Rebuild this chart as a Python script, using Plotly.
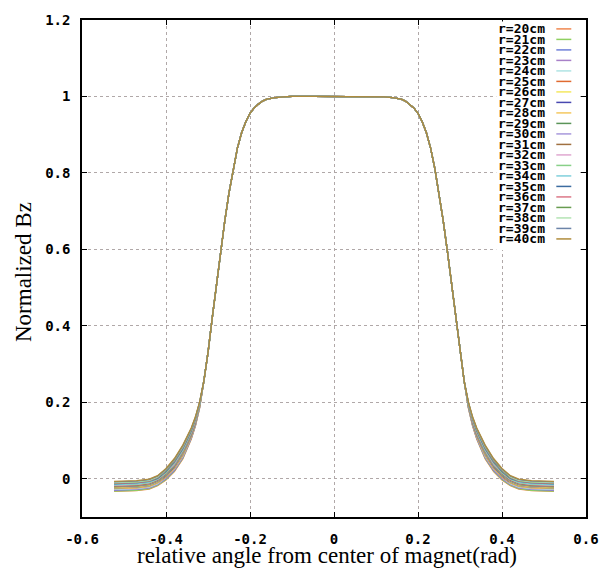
import plotly.graph_objects as go

# ---------------- data ----------------
RADII_CM = list(range(20, 41))  # r = 20 .. 40 cm

# half-profile angles (rad), mirrored about 0 for the negative side
CORE_ANGLE = [0.00, 0.05, 0.10, 0.12, 0.14, 0.15, 0.16, 0.17, 0.18, 0.19, 0.20,
              0.21, 0.22, 0.23, 0.24, 0.25, 0.26, 0.27, 0.28, 0.29, 0.30, 0.31]
CORE_BZ = [1.000, 1.000, 1.000, 0.999, 0.997, 0.995, 0.993, 0.988, 0.980, 0.970, 0.956,
           0.934, 0.905, 0.865, 0.812, 0.748, 0.675, 0.595, 0.510, 0.420, 0.330, 0.255]

TAIL_ANGLE = [0.32, 0.33, 0.34, 0.36, 0.38, 0.40, 0.42, 0.44, 0.47, 0.5236]
TAIL_BZ = [
    [0.185, 0.138, 0.103, 0.052, 0.019, -0.003, -0.018, -0.027, -0.031, -0.033],  # 20
    [0.186, 0.139, 0.105, 0.054, 0.021, -0.002, -0.017, -0.026, -0.030, -0.032],  # 21
    [0.187, 0.140, 0.106, 0.056, 0.022, 0.000, -0.015, -0.024, -0.028, -0.030],   # 22
    [0.187, 0.142, 0.108, 0.057, 0.024, 0.002, -0.014, -0.023, -0.027, -0.029],   # 23
    [0.188, 0.143, 0.109, 0.059, 0.026, 0.003, -0.013, -0.022, -0.026, -0.028],   # 24
    [0.189, 0.144, 0.110, 0.061, 0.027, 0.004, -0.011, -0.020, -0.024, -0.026],   # 25
    [0.190, 0.145, 0.112, 0.063, 0.029, 0.006, -0.010, -0.019, -0.023, -0.025],   # 26
    [0.191, 0.146, 0.113, 0.065, 0.031, 0.007, -0.009, -0.018, -0.022, -0.024],   # 27
    [0.191, 0.148, 0.115, 0.066, 0.033, 0.009, -0.008, -0.017, -0.021, -0.023],   # 28
    [0.192, 0.149, 0.116, 0.068, 0.034, 0.010, -0.006, -0.015, -0.019, -0.021],   # 29
    [0.193, 0.150, 0.118, 0.070, 0.036, 0.012, -0.005, -0.014, -0.018, -0.020],   # 30
    [0.194, 0.151, 0.119, 0.072, 0.038, 0.013, -0.004, -0.013, -0.017, -0.019],   # 31
    [0.195, 0.152, 0.121, 0.074, 0.039, 0.015, -0.002, -0.011, -0.015, -0.017],   # 32
    [0.195, 0.154, 0.122, 0.075, 0.041, 0.016, -0.001, -0.010, -0.014, -0.016],   # 33
    [0.196, 0.155, 0.124, 0.077, 0.043, 0.018, 0.000, -0.009, -0.013, -0.015],    # 34
    [0.197, 0.156, 0.125, 0.079, 0.044, 0.019, 0.001, -0.007, -0.011, -0.013],    # 35
    [0.198, 0.157, 0.127, 0.081, 0.046, 0.021, 0.003, -0.006, -0.010, -0.012],    # 36
    [0.199, 0.158, 0.128, 0.083, 0.048, 0.022, 0.004, -0.005, -0.009, -0.011],    # 37
    [0.199, 0.160, 0.130, 0.084, 0.050, 0.024, 0.005, -0.004, -0.008, -0.010],    # 38
    [0.200, 0.161, 0.131, 0.086, 0.051, 0.025, 0.007, -0.002, -0.006, -0.008],    # 39
    [0.201, 0.162, 0.133, 0.088, 0.053, 0.027, 0.008, -0.001, -0.005, -0.007],    # 40
]

COLORS = ["#f08850", "#8fd060", "#7080d8", "#a880c8", "#b0e4e4", "#e06a30",
          "#f4e860", "#4848b0", "#f4c860", "#5a9458", "#a898dc", "#a07040",
          "#e0a8d0", "#88d088", "#80d0dc", "#3c6ca0", "#dc7888", "#689c50",
          "#b4e4b4", "#6c84a8", "#b08c3c"]

X_TICK_VALUES = [-0.6, -0.4, -0.2, 0, 0.2, 0.4, 0.6]
X_TICK_TEXT = ["-0.6", "-0.4", "-0.2", "0", "0.2", "0.4", "0.6"]
Y_TICK_VALUES = [0, 0.2, 0.4, 0.6, 0.8, 1.0, 1.2]
Y_TICK_TEXT = ["0", "0.2", "0.4", "0.6", "0.8", "1", "1.2"]

X_TITLE = "relative angle from center of magnet(rad)"
Y_TITLE = "Normalized Bz"

# ---------------- figure ----------------
TICK_FONT = dict(family="DejaVu Sans Mono", size=14, color="black", weight="bold")
KEY_FONT = dict(family="DejaVu Sans Mono", size=13, color="black", weight="bold")
TITLE_FONT = dict(family="Liberation Serif", size=23, color="black")

fig = go.Figure()
half_x = CORE_ANGLE + TAIL_ANGLE
for r, tail, col in zip(RADII_CM, TAIL_BZ, COLORS):
    half_y = CORE_BZ + tail
    xs = [-a for a in reversed(half_x[1:])] + half_x
    ys = list(reversed(half_y[1:])) + half_y
    fig.add_trace(go.Scatter(x=xs, y=ys, mode="lines", name=f"r={r}cm",
                             line=dict(color=col, width=1.3), showlegend=False))

axis_common = dict(showline=True, linecolor="black", linewidth=1.5, mirror="ticks",
                   ticks="inside", ticklen=5, tickcolor="black", tickwidth=1,
                   showgrid=True, gridcolor="#b0a8a8", griddash="dot", gridwidth=1,
                   zeroline=False, tickfont=TICK_FONT)

fig.update_xaxes(range=[-0.6, 0.6], tickvals=X_TICK_VALUES, ticktext=X_TICK_TEXT,
                 ticklabelstandoff=8, **axis_common)
fig.update_yaxes(range=[-0.1, 1.2], tickvals=Y_TICK_VALUES, ticktext=Y_TICK_TEXT,
                 ticklabelstandoff=7, **axis_common)

# key (gnuplot-style: label text, then line sample), opaque box
shapes = [dict(type="rect", xref="paper", yref="paper", x0=0.822, x1=0.985,
               y0=0.537, y1=0.997, fillcolor="white", line=dict(width=0), layer="above")]
annotations = []
row0, step = 0.9821, 0.02113
for i, (r, col) in enumerate(zip(RADII_CM, COLORS)):
    yy = row0 - i * step
    shapes.append(dict(type="line", xref="paper", yref="paper", x0=0.9411, x1=0.9708,
                       y0=yy, y1=yy, line=dict(color=col, width=1.5), layer="above"))
    annotations.append(dict(xref="paper", yref="paper", x=0.9232, y=yy, text=f"r={r}cm",
                            xanchor="right", yanchor="middle", showarrow=False,
                            font=KEY_FONT))

annotations.append(dict(xref="paper", yref="paper", x=0.487, y=-0.078, text=X_TITLE,
                        xanchor="center", yanchor="middle", showarrow=False, font=TITLE_FONT))
annotations.append(dict(xref="paper", yref="paper", x=-0.1165, y=0.4935, text=Y_TITLE,
                        textangle=-90, xanchor="center", yanchor="middle", showarrow=False,
                        font=TITLE_FONT))

fig.update_layout(width=613, height=571, margin=dict(l=82, r=27, t=13, b=54),
                  paper_bgcolor="white", plot_bgcolor="white",
                  shapes=shapes, annotations=annotations, showlegend=False)

fig.write_html("out.html", config={"displayModeBar": False},
               post_script="document.body.style.margin='0';document.body.style.padding='0';")
